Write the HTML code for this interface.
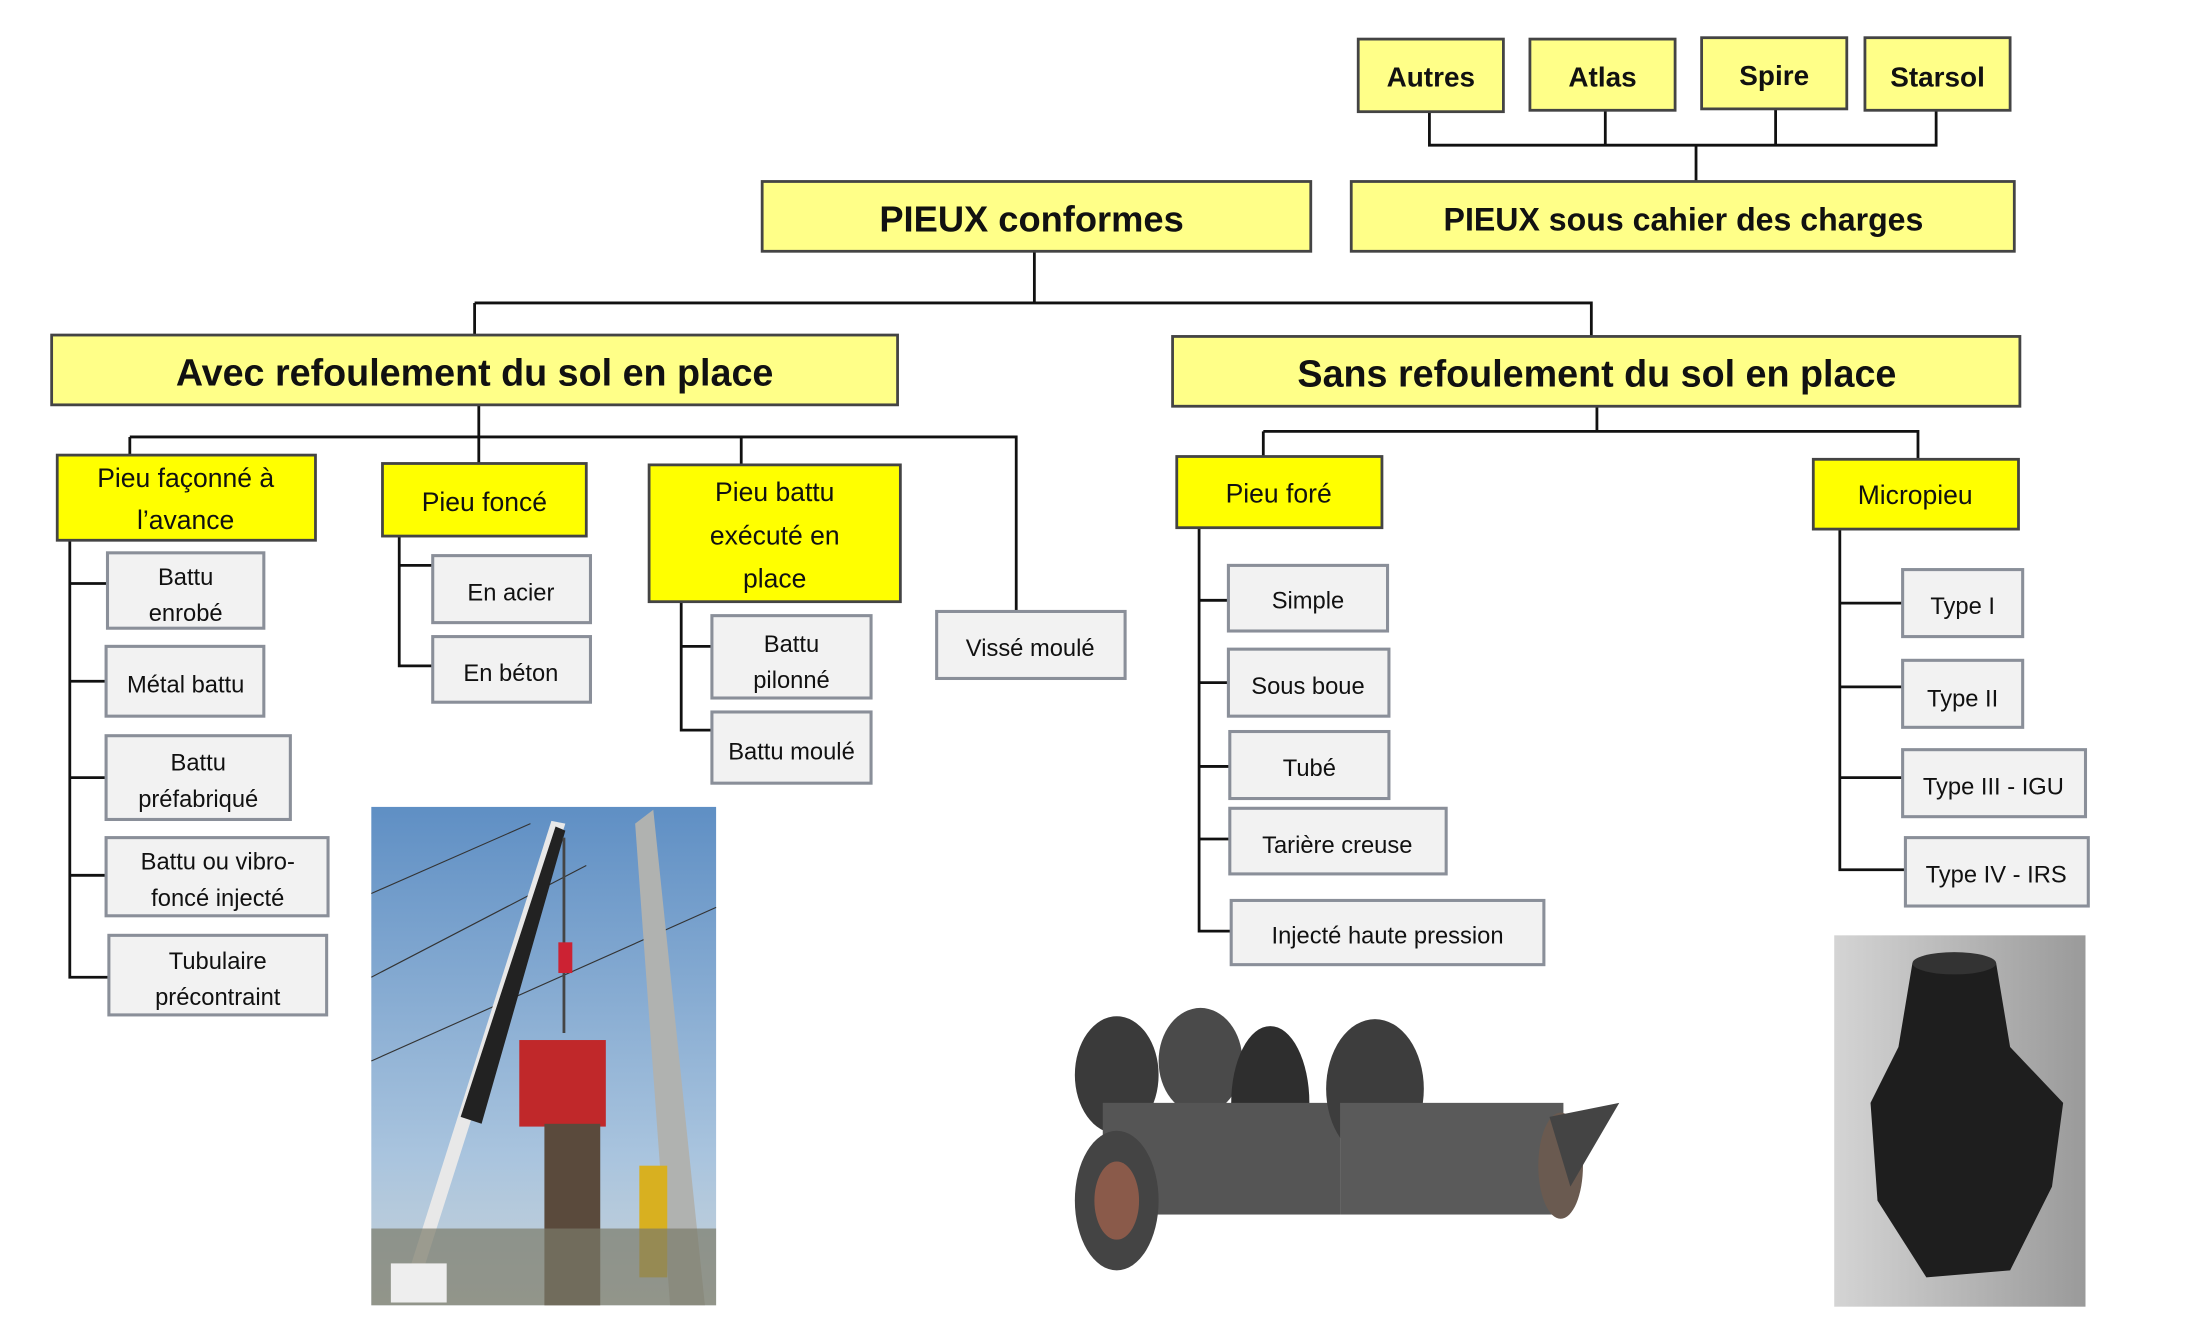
<!DOCTYPE html>
<html><head><meta charset="utf-8"><style>
html,body{margin:0;padding:0;background:#fff}
svg{display:block}
text{font-family:"Liberation Sans",sans-serif;fill:#111}
.y{fill:#ffff00;stroke:#444;stroke-width:2}
.p{fill:#ffff88;stroke:#444;stroke-width:2}
.g{fill:#f2f2f2;stroke:#8a8f99;stroke-width:2.2}
.l{stroke:#111;stroke-width:2;fill:none}
.b{font-weight:bold}
</style></head><body>
<svg width="2186" height="1336" viewBox="0 0 1566 957" preserveAspectRatio="none" xmlns="http://www.w3.org/2000/svg">
<!-- connectors -->
<path class="l" d="M1024 80V104H1387V78M1150 78V104M1272 78V104M1215 104V130"/>
<path class="l" d="M741 180V217H1140V241M340 217V240M340 217H741"/>
<path class="l" d="M343 290V313H728V438M93 313V326M343 313V332M531 313V333M93 313H343"/>
<path class="l" d="M1144 291V309H1374V329M905 309V327M905 309H1144"/>
<path class="l" d="M50 387V700H78M50 418H77M50 488H76M50 557H76M50 627H76"/>
<path class="l" d="M286 384V477H310M286 405H310"/>
<path class="l" d="M488 431V523H510M488 463H510"/>
<path class="l" d="M859 378V667H882M859 430H880M859 489H880M859 549H881M859 601H881"/>
<path class="l" d="M1318 379V623H1365M1318 432H1363M1318 492H1363M1318 557H1363"/>
<!-- top boxes -->
<rect class="p" x="973" y="28" width="104" height="52"/><text x="1025" y="62" font-size="20" class="b" text-anchor="middle">Autres</text>
<rect class="p" x="1096" y="28" width="104" height="51"/><text x="1148" y="62" font-size="20" class="b" text-anchor="middle">Atlas</text>
<rect class="p" x="1219" y="27" width="104" height="51"/><text x="1271" y="61" font-size="20" class="b" text-anchor="middle">Spire</text>
<rect class="p" x="1336" y="27" width="104" height="52"/><text x="1388" y="62" font-size="20" class="b" text-anchor="middle">Starsol</text>
<rect class="p" x="546" y="130" width="393" height="50"/><text x="739" y="166" font-size="26" class="b" text-anchor="middle">PIEUX conformes</text>
<rect class="p" x="968" y="130" width="475" height="50"/><text x="1206" y="165" font-size="23" class="b" text-anchor="middle">PIEUX sous cahier des charges</text>
<rect class="p" x="37" y="240" width="606" height="50"/><text x="340" y="276" font-size="27" class="b" text-anchor="middle">Avec refoulement du sol en place</text>
<rect class="p" x="840" y="241" width="607" height="50"/><text x="1144" y="277" font-size="27" class="b" text-anchor="middle">Sans refoulement du sol en place</text>
<!-- yellow level 2 -->
<rect class="y" x="41" y="326" width="185" height="61"/>
<text x="133" y="349" font-size="19" text-anchor="middle">Pieu façonné à</text><text x="133" y="379" font-size="19" text-anchor="middle">l’avance</text>
<rect class="y" x="274" y="332" width="146" height="52"/><text x="347" y="366" font-size="19" text-anchor="middle">Pieu foncé</text>
<rect class="y" x="465" y="333" width="180" height="98"/>
<text x="555" y="359" font-size="19" text-anchor="middle">Pieu battu</text><text x="555" y="390" font-size="19" text-anchor="middle">exécuté en</text><text x="555" y="421" font-size="19" text-anchor="middle">place</text>
<rect class="y" x="843" y="327" width="147" height="51"/><text x="916" y="360" font-size="19" text-anchor="middle">Pieu foré</text>
<rect class="y" x="1299" y="329" width="147" height="50"/><text x="1372" y="361" font-size="19" text-anchor="middle">Micropieu</text>
<!-- gray -->
<g font-size="17" text-anchor="middle">
<rect class="g" x="671" y="438" width="135" height="48"/><text x="738" y="470">Vissé moulé</text>
<rect class="g" x="77" y="396" width="112" height="54"/><text x="133" y="419">Battu</text><text x="133" y="445">enrobé</text>
<rect class="g" x="76" y="463" width="113" height="50"/><text x="133" y="496">Métal battu</text>
<rect class="g" x="76" y="527" width="132" height="60"/><text x="142" y="552">Battu</text><text x="142" y="578">préfabriqué</text>
<rect class="g" x="76" y="600" width="159" height="56"/><text x="156" y="623">Battu ou vibro-</text><text x="156" y="649">foncé injecté</text>
<rect class="g" x="78" y="670" width="156" height="57"/><text x="156" y="694">Tubulaire</text><text x="156" y="720">précontraint</text>
<rect class="g" x="310" y="398" width="113" height="48"/><text x="366" y="430">En acier</text>
<rect class="g" x="310" y="456" width="113" height="47"/><text x="366" y="488">En béton</text>
<rect class="g" x="510" y="441" width="114" height="59"/><text x="567" y="467">Battu</text><text x="567" y="493">pilonné</text>
<rect class="g" x="510" y="510" width="114" height="51"/><text x="567" y="544">Battu moulé</text>
<rect class="g" x="880" y="405" width="114" height="47"/><text x="937" y="436">Simple</text>
<rect class="g" x="880" y="465" width="115" height="48"/><text x="937" y="497">Sous boue</text>
<rect class="g" x="881" y="524" width="114" height="48"/><text x="938" y="556">Tubé</text>
<rect class="g" x="881" y="579" width="155" height="47"/><text x="958" y="611">Tarière creuse</text>
<rect class="g" x="882" y="645" width="224" height="46"/><text x="994" y="676">Injecté haute pression</text>
<rect class="g" x="1363" y="408" width="86" height="48"/><text x="1406" y="440">Type I</text>
<rect class="g" x="1363" y="473" width="86" height="48"/><text x="1406" y="506">Type II</text>
<rect class="g" x="1363" y="537" width="131" height="48"/><text x="1428" y="569">Type III - IGU</text>
<rect class="g" x="1365" y="600" width="131" height="49"/><text x="1430" y="632">Type IV - IRS</text>
</g>
<!-- crane photo -->
<defs><linearGradient id="sky" x1="0" y1="0" x2="0" y2="1"><stop offset="0" stop-color="#5f8fc4"/><stop offset="0.7" stop-color="#a9c4de"/><stop offset="1" stop-color="#c9d3d8"/></linearGradient>
<linearGradient id="bit" x1="0" y1="0" x2="1" y2="0"><stop offset="0" stop-color="#d4d4d4"/><stop offset="1" stop-color="#9a9a9a"/></linearGradient></defs>
<rect x="266" y="578" width="247" height="357" fill="url(#sky)"/>
<path d="M266 640L380 590M266 700L420 620M266 760L513 650" stroke="#333" stroke-width="0.8"/>
<polygon points="455,590 468,580 505,935 480,935" fill="#b0b2b0"/>
<polygon points="290,920 300,920 405,590 395,588" fill="#e8e8e8"/>
<polygon points="330,800 345,805 405,595 398,592" fill="#222"/>
<line x1="404" y1="600" x2="404" y2="740" stroke="#444" stroke-width="2"/>
<rect x="400" y="675" width="10" height="22" fill="#c23"/>
<rect x="372" y="745" width="62" height="62" fill="#c0282a"/>
<rect x="390" y="805" width="40" height="130" fill="#5a4a3c"/>
<rect x="458" y="835" width="20" height="80" fill="#d8b020"/>
<rect x="266" y="880" width="247" height="55" fill="#7a7a6a" opacity="0.7"/>
<rect x="280" y="905" width="40" height="28" fill="#eee"/>
<!-- auger -->
<g fill="#3a3a3a">
<ellipse cx="800" cy="770" rx="30" ry="42"/>
<ellipse cx="860" cy="760" rx="30" ry="38" fill="#4a4a4a"/>
<ellipse cx="910" cy="790" rx="28" ry="55" fill="#2e2e2e"/>
<rect x="790" y="790" width="170" height="80" fill="#555"/>
<ellipse cx="800" cy="860" rx="30" ry="50" fill="#444"/>
<ellipse cx="800" cy="860" rx="16" ry="28" fill="#8a5a4a"/>
<ellipse cx="985" cy="780" rx="35" ry="50" fill="#3d3d3d"/>
<rect x="960" y="790" width="160" height="80" fill="#5a5a5a"/>
<ellipse cx="1118" cy="835" rx="16" ry="38" fill="#6a5a50"/>
<polygon points="1110,800 1160,790 1125,850" fill="#444"/>
</g>
<!-- drill bit -->
<rect x="1314" y="670" width="180" height="266" fill="url(#bit)"/>
<polygon points="1370,690 1430,690 1440,750 1478,790 1470,850 1440,910 1380,915 1345,860 1340,790 1360,750" fill="#1e1e1e"/>
<ellipse cx="1400" cy="690" rx="30" ry="8" fill="#333"/>
</svg>
</body></html>
